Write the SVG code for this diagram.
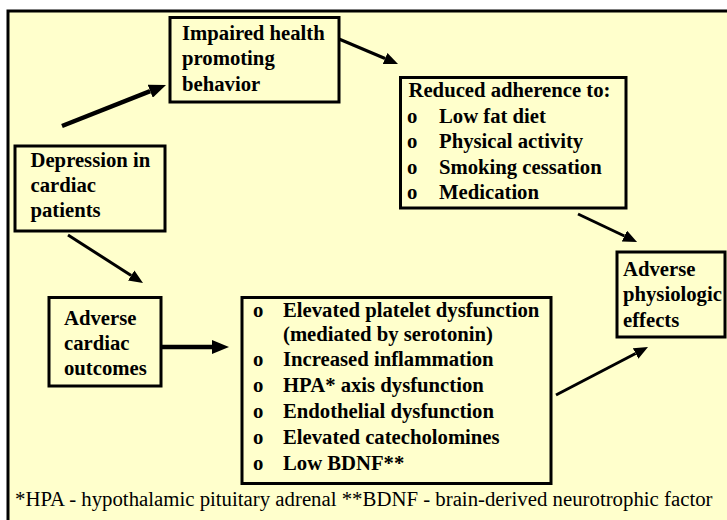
<svg xmlns="http://www.w3.org/2000/svg" width="727" height="520" viewBox="0 0 727 520">
<defs>
<style>
.box{fill:none;stroke:#000;stroke-width:3}
.t{font-family:'Liberation Serif','Times New Roman','DejaVu Serif',serif;font-size:20.7px;font-weight:bold;fill:#000}
.fn{font-family:'Liberation Serif','Times New Roman','DejaVu Serif',serif;font-size:20.8px;fill:#000}
.thick{stroke:#000;stroke-width:4.5;fill:none}
.thin{stroke:#000;stroke-width:3;fill:none}
</style>
<marker id="big" markerWidth="17" markerHeight="14" refX="0" refY="7" orient="auto" markerUnits="userSpaceOnUse"><path d="M0,0 L17,7 L0,14 z" fill="#000"/></marker>
<marker id="small" markerWidth="14" markerHeight="12" refX="0" refY="6" orient="auto" markerUnits="userSpaceOnUse"><path d="M0,0 L14,6 L0,12 z" fill="#000"/></marker>
</defs>
<rect x="0" y="0" width="727" height="520" fill="#fff"/>
<rect x="8" y="11" width="740" height="530" fill="#FFFFCC" stroke="#000" stroke-width="3"/>

<g id="connectors">
<line class="thick" x1="62" y1="126" x2="150.2" y2="91.2" marker-end="url(#big)"/>
<line class="thin" x1="339" y1="39" x2="385.1" y2="58.5" marker-end="url(#small)"/>
<line class="thin" x1="578" y1="214" x2="624.4" y2="236" marker-end="url(#small)"/>
<line class="thin" x1="68" y1="235" x2="131.2" y2="275.5" marker-end="url(#small)"/>
<line class="thick" x1="161" y1="347" x2="212" y2="347" marker-end="url(#big)"/>
<line class="thin" x1="556" y1="395" x2="635.6" y2="353.5" marker-end="url(#small)"/>
</g>

<g font-family="Liberation Serif, serif">
<g id="impaired">
<rect class="box" x="170" y="17.5" width="169" height="84.5"/>
<text class="t" x="182" y="40">Impaired health</text>
<text class="t" x="182" y="65">promoting</text>
<text class="t" x="182" y="90.5">behavior</text>
</g>

<g id="depression">
<rect class="box" x="15" y="146" width="150" height="85"/>
<text class="t" x="30.5" y="167">Depression in</text>
<text class="t" x="30.5" y="192">cardiac</text>
<text class="t" x="30.5" y="217">patients</text>
</g>

<g id="reduced">
<rect class="box" x="400.5" y="77.5" width="225.5" height="130.5"/>
<text class="t" x="408.5" y="97">Reduced adherence to:</text>
<text class="t" x="407" y="123.3">o</text><text class="t" x="439" y="123.3">Low fat diet</text>
<text class="t" x="407" y="148.3">o</text><text class="t" x="439" y="148.3">Physical activity</text>
<text class="t" x="407" y="173.5">o</text><text class="t" x="439" y="173.5">Smoking cessation</text>
<text class="t" x="407" y="198.5">o</text><text class="t" x="439" y="198.5">Medication</text>
</g>

<g id="physiologic">
<rect class="box" x="617" y="252" width="108" height="85"/>
<text class="t" x="623" y="275.5">Adverse</text>
<text class="t" x="623" y="301">physiologic</text>
<text class="t" x="623" y="326.5">effects</text>
</g>

<g id="cardiac">
<rect class="box" x="49" y="297.5" width="112" height="88.5"/>
<text class="t" x="64" y="325">Adverse</text>
<text class="t" x="64" y="350">cardiac</text>
<text class="t" x="64" y="375">outcomes</text>
</g>

<g id="mechanisms">
<rect class="box" x="242" y="297.5" width="309" height="186"/>
<text class="t" x="253" y="317">o</text><text class="t" x="283" y="317">Elevated platelet dysfunction</text>
<text class="t" x="283" y="340.5">(mediated by serotonin)</text>
<text class="t" x="253" y="366">o</text><text class="t" x="283" y="366">Increased inflammation</text>
<text class="t" x="253" y="391.7">o</text><text class="t" x="283" y="391.7">HPA* axis dysfunction</text>
<text class="t" x="253" y="417.8">o</text><text class="t" x="283" y="417.8">Endothelial dysfunction</text>
<text class="t" x="253" y="443.8">o</text><text class="t" x="283" y="443.8">Elevated catecholomines</text>
<text class="t" x="253" y="469.8">o</text><text class="t" x="283" y="469.8">Low BDNF**</text>
</g>

<text class="fn" x="15" y="506">*HPA - hypothalamic pituitary adrenal **BDNF - brain-derived neurotrophic factor</text>
</g>
</svg>
